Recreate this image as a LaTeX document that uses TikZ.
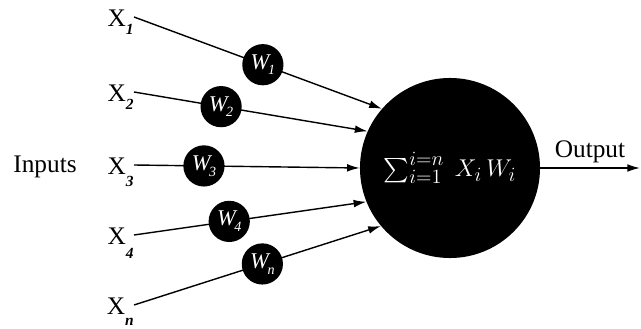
\documentclass[tikz,border=0pt]{standalone}
\usepackage{amsmath}
\usepackage{fontspec}
\setmainfont{Liberation Serif}
\usepackage{tikz}
\usetikzlibrary{arrows.meta}
\tikzset{neuron/.style={circle, fill=black, minimum size=4.5cm, inner sep=0pt, text=white, font=\fontsize{19}{23}\selectfont}, weightnode/.style={circle, fill=black, minimum size=1.03cm, inner sep=0pt, text=white, font=\fontsize{16}{19}\selectfont\itshape}, inputlabel/.style={anchor=east, inner sep=0pt, text height=14pt, text depth=0pt, font=\fontsize{18}{22}\selectfont}, sidelabel/.style={anchor=base, inner sep=0pt, font=\fontsize{18}{22}\selectfont}, arrow/.style={-{Latex[length=9pt,width=5.5pt]}, line width=1pt, draw=black}}

\begin{document}
\begin{tikzpicture}[x=0.025cm, y=-0.025cm]
\useasboundingbox (0,0) rectangle (641,329);
\node[neuron] (sum) at (450,168) {$\sum_{i=1}^{i=n}\; X_i\,W_i$};
\node[sidelabel] (inputs) at (45,173) {Inputs};
\node[sidelabel] (output) at (590,157) {Output};
\coordinate (outend) at (640,168);
\draw[arrow] (sum.east) -- (outend);
\foreach \k/\ly/\drop/\ang/\p in {1/17/5.7pt/139.4/0.52, 2/92/5.7pt/156/0.373, 3/165/8pt/180/0.31, 4/235/9.5pt/202/0.41, n/305/7.5pt/220/0.52} {\node[inputlabel] (x\k) at (134,\ly) {X\raisebox{-\drop}{\fontsize{11}{13}\selectfont\bfseries\itshape\k}};
\draw[arrow] (x\k.east) -- node[weightnode, pos=\p] (w\k) {W\kern-1pt\raisebox{-0.25em}{\fontsize{10}{12}\selectfont\k}} (sum.\ang);}
\end{tikzpicture}
\end{document}
